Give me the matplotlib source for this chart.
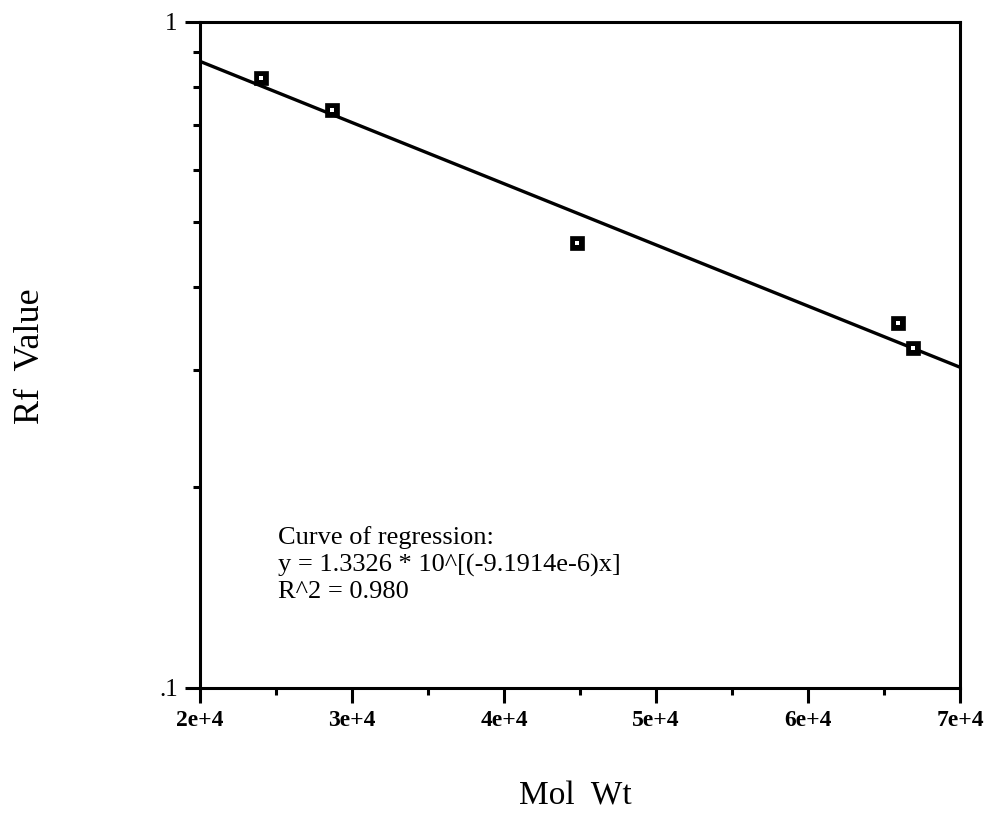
import numpy as np
import matplotlib.pyplot as plt
from matplotlib.ticker import FixedLocator, FixedFormatter, NullFormatter

mol_wt = [24000, 28700, 44800, 65900, 66900]
rf_value = [0.824, 0.738, 0.466, 0.353, 0.324]

# regression curve reported on the chart
fit_a = 1.3326
fit_b = -9.1914e-6

x_ticks = [20000, 30000, 40000, 50000, 60000, 70000]
x_labels = ['2e+4', '3e+4', '4e+4', '5e+4', '6e+4', '7e+4']
x_minor = [25000, 35000, 45000, 55000, 65000]
y_ticks = [0.1, 1]
y_labels = ['.1', '1']
y_minor = [0.2, 0.3, 0.4, 0.5, 0.6, 0.7, 0.8, 0.9]

plt.rcParams['font.family'] = ['Liberation Serif', 'DejaVu Serif']

fig = plt.figure(figsize=(9.9, 8.14), dpi=100)
ax = fig.add_axes([0.202, 0.155, 0.768, 0.818])

xs = np.linspace(20000, 70000, 200)
ax.plot(xs, fit_a * 10 ** (fit_b * xs), color='black', lw=2.4, zorder=2)

# black square with a small white centre
ax.plot(mol_wt, rf_value, linestyle='none', marker='s', markersize=9.6,
        markerfacecolor='black', markeredgecolor='black', markeredgewidth=0.5, zorder=3)
ax.plot(mol_wt, rf_value, linestyle='none', marker='s', markersize=2.8,
        markerfacecolor='white', markeredgewidth=0, zorder=4)

ax.set_yscale('log')
ax.set_xlim(20000, 70000)
ax.set_ylim(0.1, 1)

ax.xaxis.set_major_locator(FixedLocator(x_ticks))
ax.xaxis.set_major_formatter(FixedFormatter(x_labels))
ax.xaxis.set_minor_locator(FixedLocator(x_minor))
ax.yaxis.set_major_locator(FixedLocator(y_ticks))
ax.yaxis.set_major_formatter(FixedFormatter(y_labels))
ax.yaxis.set_minor_locator(FixedLocator(y_minor))
ax.yaxis.set_minor_formatter(NullFormatter())

ax.tick_params(axis='both', which='major', direction='out', length=11, width=2.2,
               labelsize=17, pad=5)
ax.tick_params(axis='both', which='minor', direction='out', length=5, width=2.2)
ax.tick_params(axis='y', which='major', labelsize=18, pad=5)
for lab in ax.get_xticklabels():
    lab.set_fontweight('bold')

for s in ax.spines.values():
    s.set_linewidth(2.2)

ax.text(0.1026, 0.135,
        'Curve of regression:\ny = 1.3326 * 10^[(-9.1914e-6)x]\nR^2 = 0.980',
        transform=ax.transAxes, fontsize=19, va='baseline', ha='left', linespacing=1.25)

fig.text(0.031, 0.563, 'Rf  Value', rotation=90, fontsize=26, ha='center', va='center')
fig.text(0.581, 0.022, 'Mol  Wt', fontsize=24, ha='center', va='center')

fig.savefig('out.png', dpi=100)
